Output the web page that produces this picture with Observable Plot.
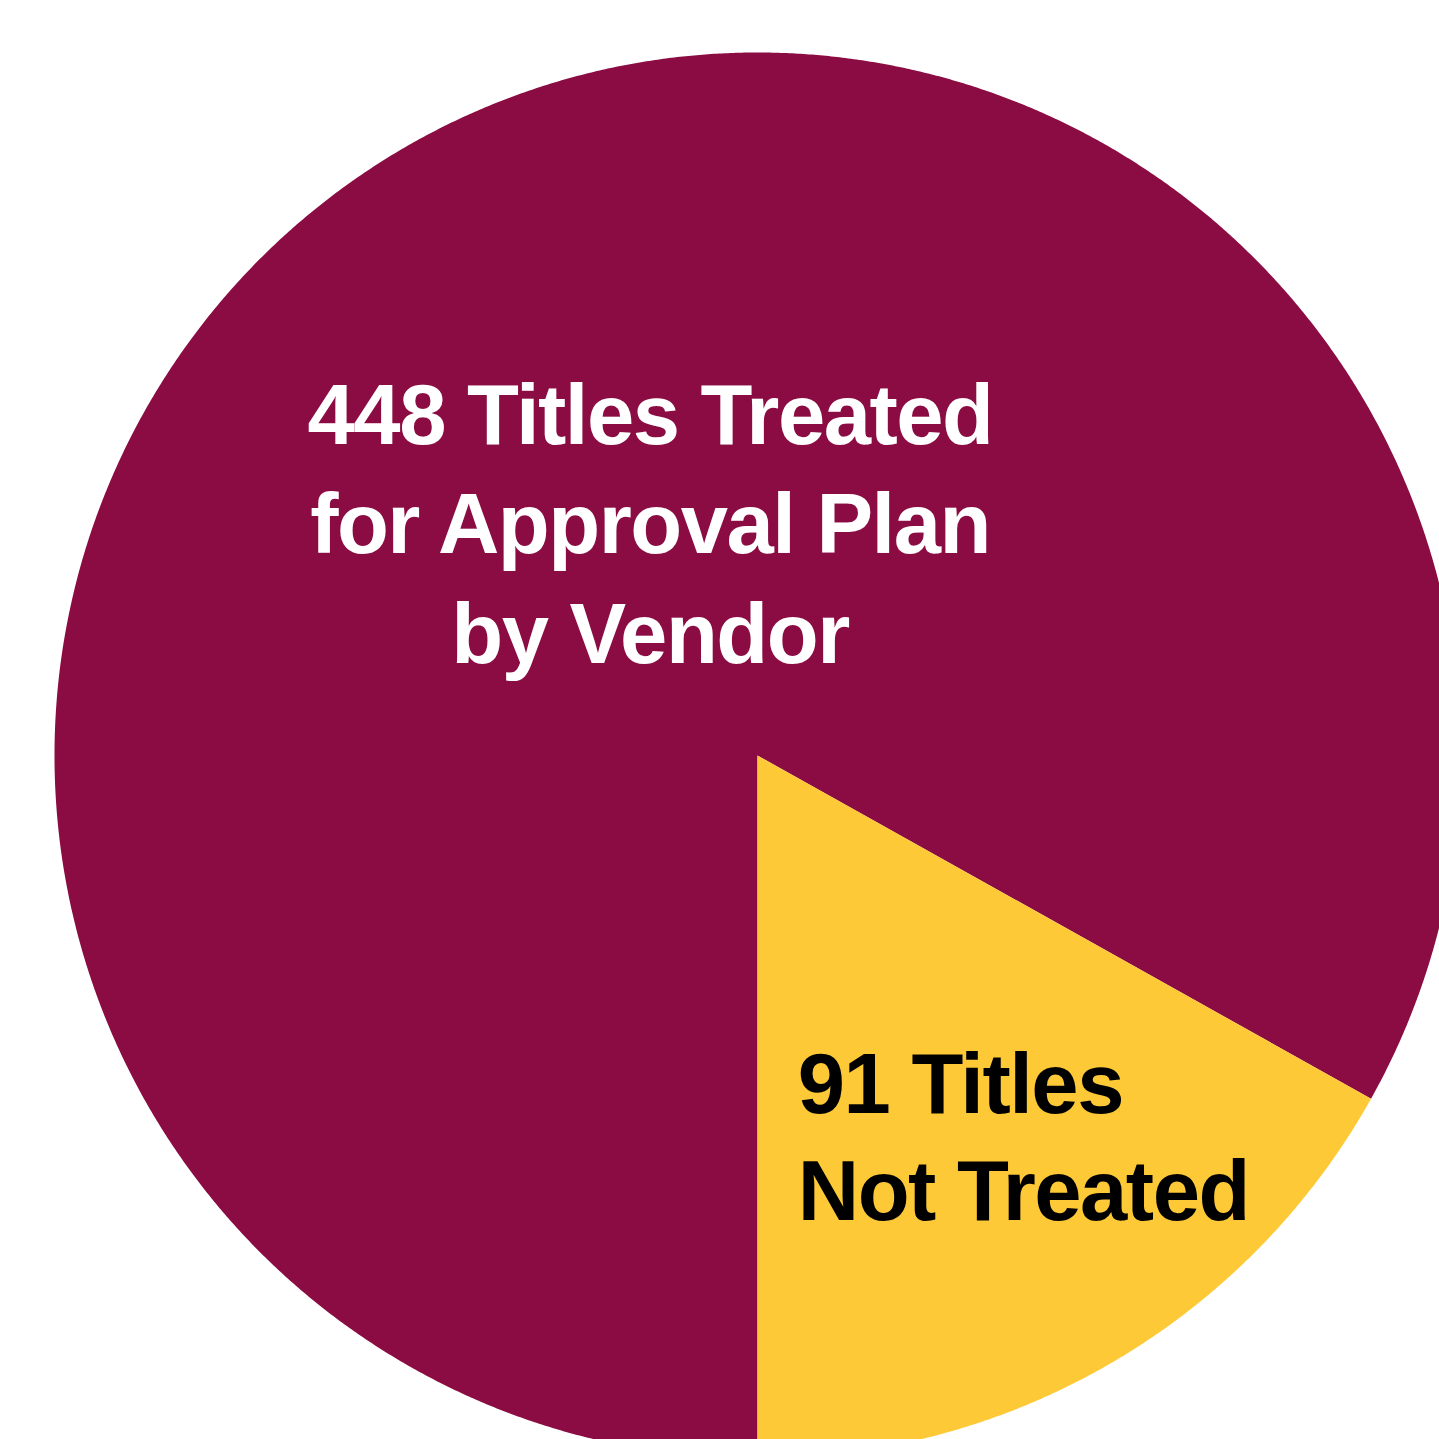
<!DOCTYPE html>
<html>
<head>
<meta charset="utf-8">
<script src="https://cdn.jsdelivr.net/npm/d3@7"></script>
<script src="https://cdn.jsdelivr.net/npm/@observablehq/plot@0.6"></script>
<style>
  html, body { margin: 0; padding: 0; background: #ffffff; }
  svg { display: block; }
</style>
</head>
<body>
<div id="chart"></div>
<script>
// ---- data ----
const categories = ["Treated for Approval Plan by Vendor", "Not Treated"];
const values = [448, 91];
const colors = ["#8B0C42", "#FDC937"];
const labels = ["448 Titles Treated\nfor Approval Plan\nby Vendor", "91 Titles\nNot Treated"];
const labelColors = ["#ffffff", "#000000"];

// ---- layout of pie (in unit-radius data space) ----
const W = 1439, H = 1439;
const R = 703, CX = 757, CY = 755;

const pie = d3.pie().sort(null).startAngle(Math.PI).endAngle(3 * Math.PI);
const arcs = pie(values);

const poly = [];
arcs.forEach((a, i) => {
  const n = Math.max(8, Math.ceil((a.endAngle - a.startAngle) / 0.004));
  poly.push({cat: categories[i], x: 0, y: 0});
  for (let k = 0; k <= n; k++) {
    const t = a.startAngle + (a.endAngle - a.startAngle) * k / n;
    poly.push({cat: categories[i], x: Math.sin(t), y: Math.cos(t)});
  }
  poly.push({cat: categories[i], x: 0, y: 0});
});

const labelR = [0.35, 0.67];
const labelData = arcs.map((a, i) => {
  const m = (a.startAngle + a.endAngle) / 2;
  return {cat: categories[i], text: labels[i], color: labelColors[i],
          x: labelR[i] * Math.sin(m), y: labelR[i] * Math.cos(m)};
});

const chart = Plot.plot({
  width: W, height: H,
  margin: 0,
  x: {domain: [-CX / R, (W - CX) / R], axis: null},
  y: {domain: [-(H - CY) / R, CY / R], axis: null},
  color: {domain: categories, range: colors},
  style: {fontFamily: "'Liberation Sans', Arial, Helvetica, sans-serif", background: "#ffffff"},
  marks: [
    Plot.line(poly, {x: "x", y: "y", z: "cat", fill: "cat", stroke: null, curve: "linear"}),
    Plot.text([labelData[0]], {
      x: "x", y: "y", text: "text", fill: "color",
      fontSize: 85, fontWeight: "bold", lineHeight: 1.29,
      textAnchor: "middle", dx: 17, dy: -25
    }),
    Plot.text([labelData[1]], {
      x: "x", y: "y", text: "text", fill: "color",
      fontSize: 85, fontWeight: "bold", lineHeight: 1.26,
      textAnchor: "start", dx: -198, dy: -30
    })
  ]
});
chart.querySelectorAll("text").forEach(t => t.style.letterSpacing = "-1.5px");
document.getElementById("chart").appendChild(chart);
</script>
</body>
</html>
